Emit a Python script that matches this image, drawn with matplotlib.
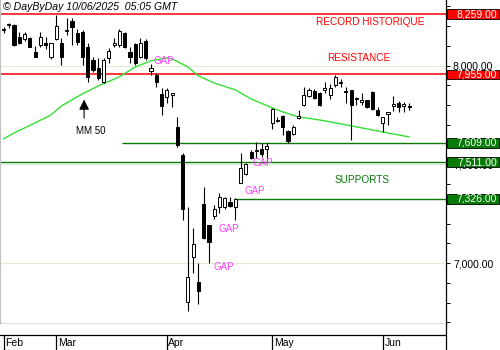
import matplotlib.pyplot as plt
from matplotlib.patches import Rectangle
from matplotlib.transforms import blended_transform_factory
import numpy as np

plt.rcParams['font.family'] = ['Liberation Sans', 'DejaVu Sans']

# daily candles, 17 Feb -> 9 Jun 2025 (trading days)
opens = [8186, 8206, 8206, 8145, 8135, 8140, 8069, 8105, 8115, 8044,
         8135, 8115, 8176, 8226, 8165, 8171, 8095, 8029, 7988, 7917,
         8039, 8105, 8105, 8165, 8069, 8110, 8044, 8125, 7973, 7953,
         7857, 7842, 7852, 7690, 7548, 6804, 7032, 6905, 7300, 7194,
         7239, 7285, 7285, 7310, 7285, 7406, 7452, 7563, 7568, 7578,
         7578, 7710, 7720, 7745, 7670, 7654, 7735, 7801, 7847, 7872,
         7862, 7877, 7852, 7902, 7917, 7872, 7877, 7837, 7816, 7826,
         7867, 7776, 7710, 7755, 7796, 7811, 7796, 7796]
highs = [8196, 8216, 8211, 8171, 8171, 8145, 8100, 8171, 8145, 8115,
         8257, 8140, 8241, 8241, 8186, 8181, 8115, 8044, 8039, 8039,
         8090, 8140, 8186, 8171, 8095, 8115, 8140, 8135, 8009, 7963,
         7887, 7887, 7862, 7740, 7558, 7285, 7179, 7001, 7386, 7194,
         7295, 7356, 7335, 7335, 7330, 7558, 7507, 7573, 7614, 7609,
         7609, 7786, 7740, 7750, 7675, 7700, 7776, 7892, 7887, 7882,
         7867, 7917, 7907, 7953, 7933, 7892, 7877, 7842, 7862, 7826,
         7872, 7791, 7740, 7766, 7847, 7821, 7816, 7811]
lows = [8165, 8191, 8100, 8110, 8125, 8092, 8041, 8095, 8084, 8034,
        8130, 8004, 8155, 8105, 8105, 8004, 7917, 7968, 7928, 7912,
        8014, 8095, 8095, 8090, 8014, 8004, 8039, 8029, 7953, 7892,
        7750, 7811, 7791, 7588, 7219, 6758, 6951, 6794, 7123, 7001,
        7224, 7254, 7275, 7285, 7219, 7406, 7447, 7528, 7533, 7538,
        7507, 7680, 7715, 7649, 7609, 7649, 7730, 7796, 7842, 7832,
        7796, 7862, 7832, 7892, 7892, 7811, 7624, 7801, 7801, 7786,
        7776, 7745, 7664, 7700, 7771, 7766, 7766, 7776]
closes = [8181, 8211, 8105, 8115, 8160, 8095, 8044, 8145, 8105, 8115,
          8201, 8044, 8181, 8196, 8120, 8044, 7943, 7978, 7938, 8029,
          8074, 8115, 8176, 8095, 8044, 8014, 8115, 8039, 7988, 7917,
          7796, 7877, 7862, 7599, 7275, 6931, 7098, 6860, 7128, 7108,
          7275, 7335, 7330, 7290, 7325, 7482, 7502, 7533, 7573, 7553,
          7593, 7781, 7725, 7690, 7619, 7690, 7745, 7852, 7877, 7837,
          7801, 7887, 7887, 7943, 7912, 7867, 7801, 7832, 7826, 7791,
          7781, 7750, 7740, 7766, 7806, 7791, 7806, 7791]

months = ["Feb", "Mar", "Apr", "May", "Jun"]
month_starts = [0, 10, 31, 51, 72]

# moving average 50
ma_idx = [0, 2, 6, 9, 11, 15, 18, 22, 25, 28, 31, 32, 35, 37, 40, 44, 47,
          51, 53, 56, 60, 66, 72, 77]
ma_vals = [7629, 7659, 7710, 7750, 7796, 7857, 7897, 7943, 7993, 8024, 8039,
           8034, 7993, 7948, 7912, 7877, 7831, 7786, 7766, 7740, 7725, 7695,
           7664, 7639]

record = 8259
resistance = 7955
supports = [7609, 7511, 7326]
support_from = [22.5, -1, 44]
grid_levels = [8000, 7500, 7000]

gap_x = [30.4, 49.2, 47.7, 42.7, 41.8]
gap_y = [8024, 7507, 7366, 7174, 6981]

RED = '#ff0000'
GREEN = '#087a08'
MAGENTA = '#ff40ff'

fig = plt.figure(figsize=(5, 3.5), dpi=100)
ax = fig.add_axes([0, 26 / 350, 446 / 500, 324 / 350])
strip = fig.add_axes([0, 0, 446 / 500, 26 / 350])

x0, x1 = -0.67, 84.0
ax.set_xlim(x0, x1)
ax.set_ylim(6692, 8332)

for g in grid_levels:
    ax.axhline(g, color='#dcefd6', lw=0.8, zorder=0)

ax.axhline(record, color=RED, lw=1.1, zorder=1)
ax.axhline(resistance, color=RED, lw=1.1, zorder=1)
for lvl, start in zip(supports, support_from):
    ax.hlines(lvl, start, x1, color=GREEN, lw=1.0, zorder=1)

ax.plot(ma_idx, ma_vals, color='#33e033', lw=1.0, zorder=2)

idx = np.arange(len(opens))
ax.vlines(idx, lows, highs, color='black', lw=0.8, zorder=3)
for i in idx:
    o, c = opens[i], closes[i]
    fc = 'white' if c >= o else 'black'
    ax.bar(i, max(abs(c - o), 4), bottom=min(o, c), width=0.6,
           color=fc, edgecolor='black', lw=0.7, zorder=4)

# annotations
ax.text(69.6, 8221, 'RECORD HISTORIQUE', color=RED, fontsize=7.2, ha='center', va='center')
ax.text(67.5, 8039, 'RESISTANCE', color=RED, fontsize=7.2, ha='center', va='center')
ax.text(68.1, 7421, 'SUPPORTS', color=GREEN, fontsize=7.2, ha='center', va='center')
for gx, gy in zip(gap_x, gap_y):
    ax.text(gx, gy, 'GAP', color=MAGENTA, fontsize=7, ha='center', va='center', zorder=5)

ax.annotate('', xy=(15.3, 7842), xytext=(15.3, 7720),
            arrowprops=dict(arrowstyle='-|>,head_length=0.6,head_width=0.3',
                            color='black', lw=0.8, mutation_scale=10))
ax.text(16.6, 7669, 'MM 50', fontsize=7, ha='center', va='center')

# right price axis
ax.yaxis.tick_right()
ax.set_yticks(grid_levels)
ax.set_yticklabels(['{:,.2f}'.format(v) for v in grid_levels])
ax.set_yticks(np.arange(6700, 8400, 100), minor=True)
ax.tick_params(axis='y', which='both', length=3, width=0.7, direction='out',
               labelsize=7.5, pad=2)
ax.set_xticks([])
ax.spines['top'].set_visible(False)
ax.spines['left'].set_color('#c0c0c0')
ax.spines['right'].set_linewidth(0.9)
ax.spines['bottom'].set_linewidth(0.9)

trans = blended_transform_factory(fig.transFigure, ax.transData)
boxes = [(record, RED), (resistance, RED)] + [(s, GREEN) for s in supports]
for lvl, col in boxes:
    ax.add_patch(Rectangle((447 / 500, lvl - 25), 52 / 500, 50, transform=trans,
                           facecolor=col, edgecolor='black', lw=0.6,
                           clip_on=False, zorder=6))
    ax.text(497 / 500, lvl, '{:,.2f}'.format(lvl), transform=trans, color='white',
            fontsize=7.5, ha='right', va='center', clip_on=False, zorder=7)

# month strip
strip.set_xlim(x0, x1)
strip.set_ylim(0, 26)
strip.axhline(15, color='black', lw=0.9)
for m, s in zip(months, month_starts):
    strip.vlines(s, 0, 15, color='black', lw=0.9)
    strip.text(s + 0.3, 6.5, m, fontsize=7.5, ha='left', va='center')
strip.set_xticks([])
strip.set_yticks([])
for side in ['top', 'left', 'bottom']:
    strip.spines[side].set_visible(False)
strip.spines['right'].set_linewidth(0.9)

fig.text(3 / 500, 1 - 7 / 350, '\u00a9 DayByDay 10/06/2025  05:05 GMT',
         style='italic', fontsize=7.6, ha='left', va='center')

fig.savefig('out.png', dpi=100)
